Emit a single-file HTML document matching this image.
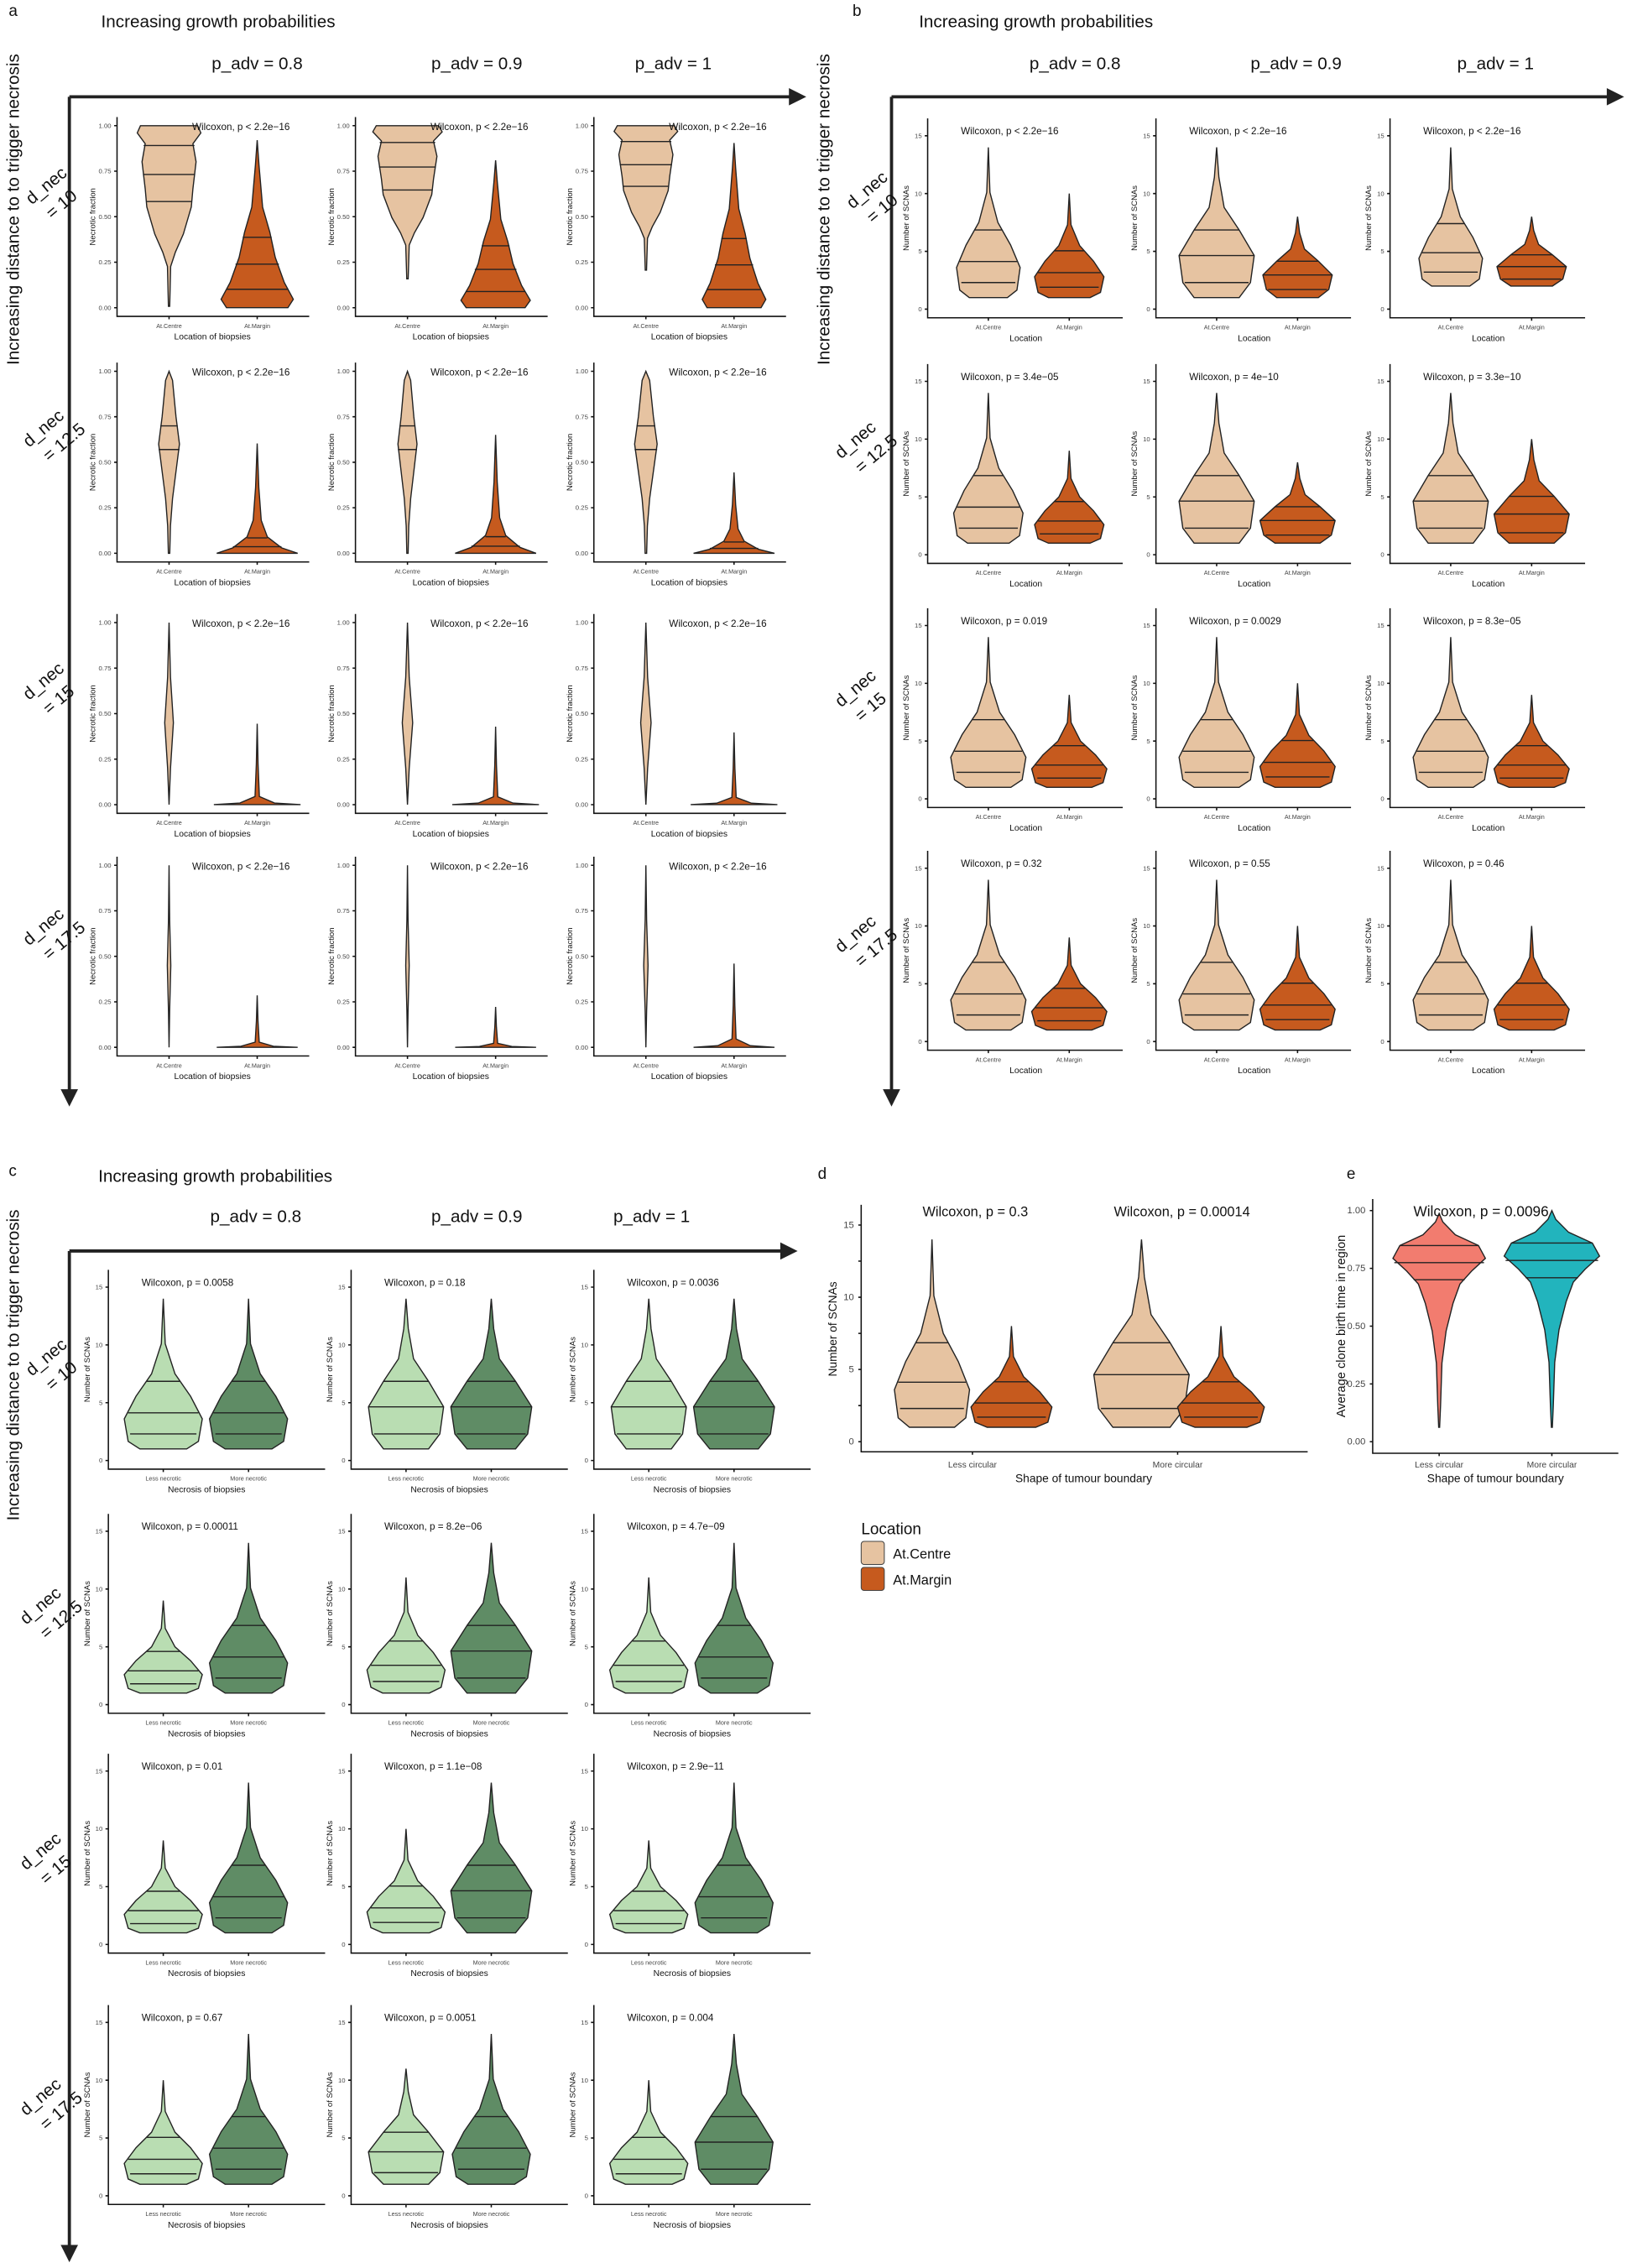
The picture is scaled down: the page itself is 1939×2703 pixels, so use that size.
<!DOCTYPE html>
<html><head><meta charset="utf-8"><style>
body{margin:0;background:#fff}
svg{display:block}
text{font-family:"Liberation Sans",sans-serif;fill:#111}
.t{font-size:4.5px;text-anchor:end;fill:#444}
.yl{font-size:5.5px;text-anchor:middle}
.xt{font-size:4.2px;text-anchor:middle;fill:#444}
.xl{font-size:6px;text-anchor:middle}
.w{font-size:6.8px}
.big{font-size:12px}
.pa{font-size:12px;text-anchor:middle}
.rl{font-size:12px}
.lab{font-size:11px}
</style></head><body>
<svg width="1939" height="2703" viewBox="0 0 1126 1570" preserveAspectRatio="none" xmlns="http://www.w3.org/2000/svg">
<defs>
<g id="axA" stroke="#111" stroke-width="0.9" fill="none"><path d="M0,0V138H133"/><path d="M-2,6H0M-2,37.5H0M-2,69H0M-2,100.5H0M-2,132H0M36,138v2M97,138v2"/></g>
<g id="axB" stroke="#111" stroke-width="0.9" fill="none"><path d="M0,0V138H135"/><path d="M-2,132H0M-2,92H0M-2,52H0M-2,12H0M42,138v2M98,138v2"/></g>
<g id="axC" stroke="#111" stroke-width="0.9" fill="none"><path d="M0,0V138H150"/><path d="M-2,132H0M-2,92H0M-2,52H0M-2,12H0M38,138v2M97,138v2"/></g>
<g id="vTop" stroke="#222" stroke-width="1.4"><polygon vector-effect="non-scaling-stroke" points="-0.9,0 0.9,0 1,0.04 0.75,0.1 0.85,0.2 0.75,0.35 0.7,0.45 0.45,0.6 0.2,0.7 0.05,0.78 0.02,1 -0.02,1 -0.05,0.78 -0.2,0.7 -0.45,0.6 -0.7,0.45 -0.75,0.35 -0.85,0.2 -0.75,0.1 -1,0.04"/><path vector-effect="non-scaling-stroke" fill="none" d="M-0.8,0.11H0.8M-0.82,0.27H0.82M-0.72,0.42H0.72"/></g>
<g id="vPyr" stroke="#222" stroke-width="1.4"><polygon vector-effect="non-scaling-stroke" points="0,0 0.05,0.15 0.15,0.4 0.35,0.55 0.5,0.7 0.75,0.85 1,0.95 0.85,1 -0.85,1 -1,0.95 -0.75,0.85 -0.5,0.7 -0.35,0.55 -0.15,0.4 -0.05,0.15"/><path vector-effect="non-scaling-stroke" fill="none" d="M-0.4,0.58H0.4M-0.6,0.74H0.6M-0.85,0.89H0.85"/></g>
<g id="vSpin" stroke="#222" stroke-width="1.4"><polygon vector-effect="non-scaling-stroke" points="0,0 0.1,0.05 0.15,0.15 0.2,0.25 0.3,0.4 0.2,0.55 0.1,0.7 0.04,0.85 0.02,1 -0.02,1 -0.04,0.85 -0.1,0.7 -0.2,0.55 -0.3,0.4 -0.2,0.25 -0.15,0.15 -0.1,0.05"/><path vector-effect="non-scaling-stroke" fill="none" d="M-0.25,0.3H0.25M-0.3,0.43H0.3"/></g>
<g id="vFlat" stroke="#222" stroke-width="1.4"><polygon vector-effect="non-scaling-stroke" points="0,0 0.04,0.4 0.1,0.7 0.25,0.85 0.6,0.95 1,1 -1,1 -0.6,0.95 -0.25,0.85 -0.1,0.7 -0.04,0.4"/><path vector-effect="non-scaling-stroke" fill="none" d="M-0.25,0.86H0.25M-0.6,0.94H0.6"/></g>
<g id="vFlat2" stroke="#222" stroke-width="1.4"><polygon vector-effect="non-scaling-stroke" points="0,0 0.02,0.5 0.05,0.9 0.4,0.98 1,1 -1,1 -0.4,0.98 -0.05,0.9 -0.02,0.5"/></g>
<g id="vNeed" stroke="#222" stroke-width="1.4"><polygon vector-effect="non-scaling-stroke" points="0,0 0.2,0.3 0.6,0.55 0.2,0.8 0,1 -0.2,0.8 -0.6,0.55 -0.2,0.3"/></g>
<g id="vS" stroke="#222" stroke-width="1.4"><polygon vector-effect="non-scaling-stroke" points="0,0 0.05,0.3 0.3,0.5 0.7,0.65 1,0.8 0.9,0.95 0.6,1 -0.6,1 -0.9,0.95 -1,0.8 -0.7,0.65 -0.3,0.5 -0.05,0.3"/><path vector-effect="non-scaling-stroke" fill="none" d="M-0.42,0.55H0.42M-0.9,0.76H0.9M-0.85,0.9H0.85"/></g>
<g id="vS2" stroke="#222" stroke-width="1.4"><polygon vector-effect="non-scaling-stroke" points="0,0 0.06,0.2 0.2,0.4 0.6,0.55 1,0.72 0.9,0.9 0.6,1 -0.6,1 -0.9,0.9 -1,0.72 -0.6,0.55 -0.2,0.4 -0.06,0.2"/><path vector-effect="non-scaling-stroke" fill="none" d="M-0.6,0.55H0.6M-1,0.72H1M-0.85,0.9H0.85"/></g>
<g id="vE" stroke="#222" stroke-width="1.4"><polygon vector-effect="non-scaling-stroke" points="0,0 0.08,0.04 0.35,0.1 0.85,0.15 1,0.21 0.7,0.27 0.45,0.33 0.3,0.42 0.15,0.55 0.06,0.7 0.03,0.9 0.01,1 -0.01,1 -0.03,0.9 -0.06,0.7 -0.15,0.55 -0.3,0.42 -0.45,0.33 -0.7,0.27 -1,0.21 -0.85,0.15 -0.35,0.1 -0.08,0.04"/><path vector-effect="non-scaling-stroke" fill="none" d="M-0.85,0.15H0.85M-0.97,0.23H0.97M-0.55,0.31H0.55"/></g>
</defs>

<!-- PANEL A -->
<text x="6" y="11" class="lab">a</text>
<text x="70" y="19" class="big">Increasing growth probabilities</text>
<text x="178" y="48" class="pa">p_adv = 0.8</text><text x="330" y="48" class="pa">p_adv = 0.9</text><text x="466" y="48" class="pa">p_adv = 1</text>
<path d="M48,67H552M48,67V758" stroke="#222" stroke-width="2.2" fill="none"/>
<polygon points="558,67 546,61 546,73" fill="#222"/><polygon points="48,766 42,754 54,754" fill="#222"/>
<text transform="translate(13,145) rotate(-90)" class="big" text-anchor="middle">Increasing distance to to trigger necrosis</text>
<g class="rl"><text transform="translate(22,142) rotate(-40)">d_nec</text><text transform="translate(36,152) rotate(-40)">= 10</text>
<text transform="translate(20,310) rotate(-40)">d_nec</text><text transform="translate(34,320) rotate(-40)">= 12.5</text>
<text transform="translate(20,485) rotate(-40)">d_nec</text><text transform="translate(34,495) rotate(-40)">= 15</text>
<text transform="translate(20,655) rotate(-40)">d_nec</text><text transform="translate(34,665) rotate(-40)">= 17.5</text></g>

<g transform="translate(81,81)"><use href="#axA"/><use href="#vTop" fill="#e6c3a1" transform="translate(36,6) scale(22,125)"/><use href="#vPyr" fill="#c65a1e" transform="translate(97,16) scale(25,116)"/>
<text x="-4" y="7.5" class="t">1.00</text><text x="-4" y="39" class="t">0.75</text><text x="-4" y="70.5" class="t">0.50</text><text x="-4" y="102" class="t">0.25</text><text x="-4" y="133.5" class="t">0.00</text><text transform="translate(-15,69) rotate(-90)" class="yl">Necrotic fraction</text><text x="36" y="146" class="xt">At.Centre</text><text x="97" y="146" class="xt">At.Margin</text><text x="66" y="154" class="xl">Location of biopsies</text><text x="52" y="9" class="w">Wilcoxon, p &lt; 2.2e−16</text></g>
<g transform="translate(246,81)"><use href="#axA"/><use href="#vTop" fill="#e6c3a1" transform="translate(36,6) scale(24,106)"/><use href="#vPyr" fill="#c65a1e" transform="translate(97,30) scale(24,102)"/>
<text x="-4" y="7.5" class="t">1.00</text><text x="-4" y="39" class="t">0.75</text><text x="-4" y="70.5" class="t">0.50</text><text x="-4" y="102" class="t">0.25</text><text x="-4" y="133.5" class="t">0.00</text><text transform="translate(-15,69) rotate(-90)" class="yl">Necrotic fraction</text><text x="36" y="146" class="xt">At.Centre</text><text x="97" y="146" class="xt">At.Margin</text><text x="66" y="154" class="xl">Location of biopsies</text><text x="52" y="9" class="w">Wilcoxon, p &lt; 2.2e−16</text></g>
<g transform="translate(411,81)"><use href="#axA"/><use href="#vTop" fill="#e6c3a1" transform="translate(36,6) scale(22,100)"/><use href="#vPyr" fill="#c65a1e" transform="translate(97,18) scale(22,114)"/>
<text x="-4" y="7.5" class="t">1.00</text><text x="-4" y="39" class="t">0.75</text><text x="-4" y="70.5" class="t">0.50</text><text x="-4" y="102" class="t">0.25</text><text x="-4" y="133.5" class="t">0.00</text><text transform="translate(-15,69) rotate(-90)" class="yl">Necrotic fraction</text><text x="36" y="146" class="xt">At.Centre</text><text x="97" y="146" class="xt">At.Margin</text><text x="66" y="154" class="xl">Location of biopsies</text><text x="52" y="9" class="w">Wilcoxon, p &lt; 2.2e−16</text></g>

<g transform="translate(81,251)"><use href="#axA"/><use href="#vSpin" fill="#e6c3a1" transform="translate(36,6) scale(24,126)"/><use href="#vFlat" fill="#c65a1e" transform="translate(97,56) scale(28,76)"/>
<text x="-4" y="7.5" class="t">1.00</text><text x="-4" y="39" class="t">0.75</text><text x="-4" y="70.5" class="t">0.50</text><text x="-4" y="102" class="t">0.25</text><text x="-4" y="133.5" class="t">0.00</text><text transform="translate(-15,69) rotate(-90)" class="yl">Necrotic fraction</text><text x="36" y="146" class="xt">At.Centre</text><text x="97" y="146" class="xt">At.Margin</text><text x="66" y="154" class="xl">Location of biopsies</text><text x="52" y="9" class="w">Wilcoxon, p &lt; 2.2e−16</text></g>
<g transform="translate(246,251)"><use href="#axA"/><use href="#vSpin" fill="#e6c3a1" transform="translate(36,6) scale(22,126)"/><use href="#vFlat" fill="#c65a1e" transform="translate(97,50) scale(28,82)"/>
<text x="-4" y="7.5" class="t">1.00</text><text x="-4" y="39" class="t">0.75</text><text x="-4" y="70.5" class="t">0.50</text><text x="-4" y="102" class="t">0.25</text><text x="-4" y="133.5" class="t">0.00</text><text transform="translate(-15,69) rotate(-90)" class="yl">Necrotic fraction</text><text x="36" y="146" class="xt">At.Centre</text><text x="97" y="146" class="xt">At.Margin</text><text x="66" y="154" class="xl">Location of biopsies</text><text x="52" y="9" class="w">Wilcoxon, p &lt; 2.2e−16</text></g>
<g transform="translate(411,251)"><use href="#axA"/><use href="#vSpin" fill="#e6c3a1" transform="translate(36,6) scale(26,126)"/><use href="#vFlat" fill="#c65a1e" transform="translate(97,76) scale(28,56)"/>
<text x="-4" y="7.5" class="t">1.00</text><text x="-4" y="39" class="t">0.75</text><text x="-4" y="70.5" class="t">0.50</text><text x="-4" y="102" class="t">0.25</text><text x="-4" y="133.5" class="t">0.00</text><text transform="translate(-15,69) rotate(-90)" class="yl">Necrotic fraction</text><text x="36" y="146" class="xt">At.Centre</text><text x="97" y="146" class="xt">At.Margin</text><text x="66" y="154" class="xl">Location of biopsies</text><text x="52" y="9" class="w">Wilcoxon, p &lt; 2.2e−16</text></g>

<g transform="translate(81,425)"><use href="#axA"/><use href="#vNeed" fill="#e6c3a1" transform="translate(36,6) scale(5,126)"/><use href="#vFlat2" fill="#c65a1e" transform="translate(97,76) scale(30,56)"/>
<text x="-4" y="7.5" class="t">1.00</text><text x="-4" y="39" class="t">0.75</text><text x="-4" y="70.5" class="t">0.50</text><text x="-4" y="102" class="t">0.25</text><text x="-4" y="133.5" class="t">0.00</text><text transform="translate(-15,69) rotate(-90)" class="yl">Necrotic fraction</text><text x="36" y="146" class="xt">At.Centre</text><text x="97" y="146" class="xt">At.Margin</text><text x="66" y="154" class="xl">Location of biopsies</text><text x="52" y="9" class="w">Wilcoxon, p &lt; 2.2e−16</text></g>
<g transform="translate(246,425)"><use href="#axA"/><use href="#vNeed" fill="#e6c3a1" transform="translate(36,6) scale(6,126)"/><use href="#vFlat2" fill="#c65a1e" transform="translate(97,78) scale(30,54)"/>
<text x="-4" y="7.5" class="t">1.00</text><text x="-4" y="39" class="t">0.75</text><text x="-4" y="70.5" class="t">0.50</text><text x="-4" y="102" class="t">0.25</text><text x="-4" y="133.5" class="t">0.00</text><text transform="translate(-15,69) rotate(-90)" class="yl">Necrotic fraction</text><text x="36" y="146" class="xt">At.Centre</text><text x="97" y="146" class="xt">At.Margin</text><text x="66" y="154" class="xl">Location of biopsies</text><text x="52" y="9" class="w">Wilcoxon, p &lt; 2.2e−16</text></g>
<g transform="translate(411,425)"><use href="#axA"/><use href="#vNeed" fill="#e6c3a1" transform="translate(36,6) scale(6,126)"/><use href="#vFlat2" fill="#c65a1e" transform="translate(97,82) scale(30,50)"/>
<text x="-4" y="7.5" class="t">1.00</text><text x="-4" y="39" class="t">0.75</text><text x="-4" y="70.5" class="t">0.50</text><text x="-4" y="102" class="t">0.25</text><text x="-4" y="133.5" class="t">0.00</text><text transform="translate(-15,69) rotate(-90)" class="yl">Necrotic fraction</text><text x="36" y="146" class="xt">At.Centre</text><text x="97" y="146" class="xt">At.Margin</text><text x="66" y="154" class="xl">Location of biopsies</text><text x="52" y="9" class="w">Wilcoxon, p &lt; 2.2e−16</text></g>

<g transform="translate(81,593)"><use href="#axA"/><use href="#vNeed" fill="#e6c3a1" transform="translate(36,6) scale(2,126)"/><use href="#vFlat2" fill="#c65a1e" transform="translate(97,96) scale(28,36)"/>
<text x="-4" y="7.5" class="t">1.00</text><text x="-4" y="39" class="t">0.75</text><text x="-4" y="70.5" class="t">0.50</text><text x="-4" y="102" class="t">0.25</text><text x="-4" y="133.5" class="t">0.00</text><text transform="translate(-15,69) rotate(-90)" class="yl">Necrotic fraction</text><text x="36" y="146" class="xt">At.Centre</text><text x="97" y="146" class="xt">At.Margin</text><text x="66" y="154" class="xl">Location of biopsies</text><text x="52" y="9" class="w">Wilcoxon, p &lt; 2.2e−16</text></g>
<g transform="translate(246,593)"><use href="#axA"/><use href="#vNeed" fill="#e6c3a1" transform="translate(36,6) scale(2,126)"/><use href="#vFlat2" fill="#c65a1e" transform="translate(97,104) scale(28,28)"/>
<text x="-4" y="7.5" class="t">1.00</text><text x="-4" y="39" class="t">0.75</text><text x="-4" y="70.5" class="t">0.50</text><text x="-4" y="102" class="t">0.25</text><text x="-4" y="133.5" class="t">0.00</text><text transform="translate(-15,69) rotate(-90)" class="yl">Necrotic fraction</text><text x="36" y="146" class="xt">At.Centre</text><text x="97" y="146" class="xt">At.Margin</text><text x="66" y="154" class="xl">Location of biopsies</text><text x="52" y="9" class="w">Wilcoxon, p &lt; 2.2e−16</text></g>
<g transform="translate(411,593)"><use href="#axA"/><use href="#vNeed" fill="#e6c3a1" transform="translate(36,6) scale(2.5,126)"/><use href="#vFlat2" fill="#c65a1e" transform="translate(97,74) scale(28,58)"/>
<text x="-4" y="7.5" class="t">1.00</text><text x="-4" y="39" class="t">0.75</text><text x="-4" y="70.5" class="t">0.50</text><text x="-4" y="102" class="t">0.25</text><text x="-4" y="133.5" class="t">0.00</text><text transform="translate(-15,69) rotate(-90)" class="yl">Necrotic fraction</text><text x="36" y="146" class="xt">At.Centre</text><text x="97" y="146" class="xt">At.Margin</text><text x="66" y="154" class="xl">Location of biopsies</text><text x="52" y="9" class="w">Wilcoxon, p &lt; 2.2e−16</text></g>

<!-- PANEL B -->
<text x="590" y="11" class="lab">b</text>
<text x="636" y="19" class="big">Increasing growth probabilities</text>
<text x="744" y="48" class="pa">p_adv = 0.8</text><text x="897" y="48" class="pa">p_adv = 0.9</text><text x="1035" y="48" class="pa">p_adv = 1</text>
<path d="M617,67H1117M617,67V758" stroke="#222" stroke-width="2.2" fill="none"/>
<polygon points="1124,67 1112,61 1112,73" fill="#222"/><polygon points="617,766 611,754 623,754" fill="#222"/>
<text transform="translate(574,145) rotate(-90)" class="big" text-anchor="middle">Increasing distance to to trigger necrosis</text>
<g class="rl"><text transform="translate(590,145) rotate(-40)">d_nec</text><text transform="translate(604,155) rotate(-40)">= 10</text>
<text transform="translate(582,318) rotate(-40)">d_nec</text><text transform="translate(596,328) rotate(-40)">= 12.5</text>
<text transform="translate(582,490) rotate(-40)">d_nec</text><text transform="translate(596,500) rotate(-40)">= 15</text>
<text transform="translate(582,660) rotate(-40)">d_nec</text><text transform="translate(596,670) rotate(-40)">= 17.5</text></g>

<g transform="translate(642,82)"><use href="#axB"/><use href="#vS" fill="#e6c3a1" transform="translate(42,20) scale(22,104)"/><use href="#vS" fill="#c65a1e" transform="translate(98,52) scale(24,72)"/>
<text x="-4" y="133.5" class="t">0</text><text x="-4" y="93.5" class="t">5</text><text x="-4" y="53.5" class="t">10</text><text x="-4" y="13.5" class="t">15</text><text transform="translate(-13,69) rotate(-90)" class="yl">Number of SCNAs</text><text x="42" y="146" class="xt">At.Centre</text><text x="98" y="146" class="xt">At.Margin</text><text x="68" y="154" class="xl">Location</text><text x="23" y="11" class="w">Wilcoxon, p &lt; 2.2e−16</text></g>
<g transform="translate(800,82)"><use href="#axB"/><use href="#vS2" fill="#e6c3a1" transform="translate(42,20) scale(26,104)"/><use href="#vS2" fill="#c65a1e" transform="translate(98,68) scale(24,56)"/>
<text x="-4" y="133.5" class="t">0</text><text x="-4" y="93.5" class="t">5</text><text x="-4" y="53.5" class="t">10</text><text x="-4" y="13.5" class="t">15</text><text transform="translate(-13,69) rotate(-90)" class="yl">Number of SCNAs</text><text x="42" y="146" class="xt">At.Centre</text><text x="98" y="146" class="xt">At.Margin</text><text x="68" y="154" class="xl">Location</text><text x="23" y="11" class="w">Wilcoxon, p &lt; 2.2e−16</text></g>
<g transform="translate(962,82)"><use href="#axB"/><use href="#vS" fill="#e6c3a1" transform="translate(42,20) scale(22,96)"/><use href="#vS2" fill="#c65a1e" transform="translate(98,68) scale(24,48)"/>
<text x="-4" y="133.5" class="t">0</text><text x="-4" y="93.5" class="t">5</text><text x="-4" y="53.5" class="t">10</text><text x="-4" y="13.5" class="t">15</text><text transform="translate(-13,69) rotate(-90)" class="yl">Number of SCNAs</text><text x="42" y="146" class="xt">At.Centre</text><text x="98" y="146" class="xt">At.Margin</text><text x="68" y="154" class="xl">Location</text><text x="23" y="11" class="w">Wilcoxon, p &lt; 2.2e−16</text></g>

<g transform="translate(642,252)"><use href="#axB"/><use href="#vS" fill="#e6c3a1" transform="translate(42,20) scale(24,104)"/><use href="#vS" fill="#c65a1e" transform="translate(98,60) scale(24,64)"/>
<text x="-4" y="133.5" class="t">0</text><text x="-4" y="93.5" class="t">5</text><text x="-4" y="53.5" class="t">10</text><text x="-4" y="13.5" class="t">15</text><text transform="translate(-13,69) rotate(-90)" class="yl">Number of SCNAs</text><text x="42" y="146" class="xt">At.Centre</text><text x="98" y="146" class="xt">At.Margin</text><text x="68" y="154" class="xl">Location</text><text x="23" y="11" class="w">Wilcoxon, p = 3.4e−05</text></g>
<g transform="translate(800,252)"><use href="#axB"/><use href="#vS2" fill="#e6c3a1" transform="translate(42,20) scale(26,104)"/><use href="#vS2" fill="#c65a1e" transform="translate(98,68) scale(26,56)"/>
<text x="-4" y="133.5" class="t">0</text><text x="-4" y="93.5" class="t">5</text><text x="-4" y="53.5" class="t">10</text><text x="-4" y="13.5" class="t">15</text><text transform="translate(-13,69) rotate(-90)" class="yl">Number of SCNAs</text><text x="42" y="146" class="xt">At.Centre</text><text x="98" y="146" class="xt">At.Margin</text><text x="68" y="154" class="xl">Location</text><text x="23" y="11" class="w">Wilcoxon, p = 4e−10</text></g>
<g transform="translate(962,252)"><use href="#axB"/><use href="#vS2" fill="#e6c3a1" transform="translate(42,20) scale(26,104)"/><use href="#vS2" fill="#c65a1e" transform="translate(98,52) scale(26,72)"/>
<text x="-4" y="133.5" class="t">0</text><text x="-4" y="93.5" class="t">5</text><text x="-4" y="53.5" class="t">10</text><text x="-4" y="13.5" class="t">15</text><text transform="translate(-13,69) rotate(-90)" class="yl">Number of SCNAs</text><text x="42" y="146" class="xt">At.Centre</text><text x="98" y="146" class="xt">At.Margin</text><text x="68" y="154" class="xl">Location</text><text x="23" y="11" class="w">Wilcoxon, p = 3.3e−10</text></g>

<g transform="translate(642,421)"><use href="#axB"/><use href="#vS" fill="#e6c3a1" transform="translate(42,20) scale(26,104)"/><use href="#vS" fill="#c65a1e" transform="translate(98,60) scale(26,64)"/>
<text x="-4" y="133.5" class="t">0</text><text x="-4" y="93.5" class="t">5</text><text x="-4" y="53.5" class="t">10</text><text x="-4" y="13.5" class="t">15</text><text transform="translate(-13,69) rotate(-90)" class="yl">Number of SCNAs</text><text x="42" y="146" class="xt">At.Centre</text><text x="98" y="146" class="xt">At.Margin</text><text x="68" y="154" class="xl">Location</text><text x="23" y="11" class="w">Wilcoxon, p = 0.019</text></g>
<g transform="translate(800,421)"><use href="#axB"/><use href="#vS" fill="#e6c3a1" transform="translate(42,20) scale(26,104)"/><use href="#vS" fill="#c65a1e" transform="translate(98,52) scale(26,72)"/>
<text x="-4" y="133.5" class="t">0</text><text x="-4" y="93.5" class="t">5</text><text x="-4" y="53.5" class="t">10</text><text x="-4" y="13.5" class="t">15</text><text transform="translate(-13,69) rotate(-90)" class="yl">Number of SCNAs</text><text x="42" y="146" class="xt">At.Centre</text><text x="98" y="146" class="xt">At.Margin</text><text x="68" y="154" class="xl">Location</text><text x="23" y="11" class="w">Wilcoxon, p = 0.0029</text></g>
<g transform="translate(962,421)"><use href="#axB"/><use href="#vS" fill="#e6c3a1" transform="translate(42,20) scale(26,104)"/><use href="#vS" fill="#c65a1e" transform="translate(98,60) scale(26,64)"/>
<text x="-4" y="133.5" class="t">0</text><text x="-4" y="93.5" class="t">5</text><text x="-4" y="53.5" class="t">10</text><text x="-4" y="13.5" class="t">15</text><text transform="translate(-13,69) rotate(-90)" class="yl">Number of SCNAs</text><text x="42" y="146" class="xt">At.Centre</text><text x="98" y="146" class="xt">At.Margin</text><text x="68" y="154" class="xl">Location</text><text x="23" y="11" class="w">Wilcoxon, p = 8.3e−05</text></g>

<g transform="translate(642,589)"><use href="#axB"/><use href="#vS" fill="#e6c3a1" transform="translate(42,20) scale(26,104)"/><use href="#vS" fill="#c65a1e" transform="translate(98,60) scale(26,64)"/>
<text x="-4" y="133.5" class="t">0</text><text x="-4" y="93.5" class="t">5</text><text x="-4" y="53.5" class="t">10</text><text x="-4" y="13.5" class="t">15</text><text transform="translate(-13,69) rotate(-90)" class="yl">Number of SCNAs</text><text x="42" y="146" class="xt">At.Centre</text><text x="98" y="146" class="xt">At.Margin</text><text x="68" y="154" class="xl">Location</text><text x="23" y="11" class="w">Wilcoxon, p = 0.32</text></g>
<g transform="translate(800,589)"><use href="#axB"/><use href="#vS" fill="#e6c3a1" transform="translate(42,20) scale(26,104)"/><use href="#vS" fill="#c65a1e" transform="translate(98,52) scale(26,72)"/>
<text x="-4" y="133.5" class="t">0</text><text x="-4" y="93.5" class="t">5</text><text x="-4" y="53.5" class="t">10</text><text x="-4" y="13.5" class="t">15</text><text transform="translate(-13,69) rotate(-90)" class="yl">Number of SCNAs</text><text x="42" y="146" class="xt">At.Centre</text><text x="98" y="146" class="xt">At.Margin</text><text x="68" y="154" class="xl">Location</text><text x="23" y="11" class="w">Wilcoxon, p = 0.55</text></g>
<g transform="translate(962,589)"><use href="#axB"/><use href="#vS" fill="#e6c3a1" transform="translate(42,20) scale(26,104)"/><use href="#vS" fill="#c65a1e" transform="translate(98,52) scale(26,72)"/>
<text x="-4" y="133.5" class="t">0</text><text x="-4" y="93.5" class="t">5</text><text x="-4" y="53.5" class="t">10</text><text x="-4" y="13.5" class="t">15</text><text transform="translate(-13,69) rotate(-90)" class="yl">Number of SCNAs</text><text x="42" y="146" class="xt">At.Centre</text><text x="98" y="146" class="xt">At.Margin</text><text x="68" y="154" class="xl">Location</text><text x="23" y="11" class="w">Wilcoxon, p = 0.46</text></g>

<!-- PANEL C -->
<text x="6" y="814" class="lab">c</text>
<text x="68" y="818" class="big">Increasing growth probabilities</text>
<text x="177" y="846" class="pa">p_adv = 0.8</text><text x="330" y="846" class="pa">p_adv = 0.9</text><text x="451" y="846" class="pa">p_adv = 1</text>
<path d="M48,866H545M48,866V1558" stroke="#222" stroke-width="2.2" fill="none"/>
<polygon points="552,866 540,860 540,872" fill="#222"/><polygon points="48,1566 42,1554 54,1554" fill="#222"/>
<text transform="translate(13,945) rotate(-90)" class="big" text-anchor="middle">Increasing distance to to trigger necrosis</text>
<g class="rl"><text transform="translate(22,953) rotate(-40)">d_nec</text><text transform="translate(36,963) rotate(-40)">= 10</text>
<text transform="translate(18,1125) rotate(-40)">d_nec</text><text transform="translate(32,1135) rotate(-40)">= 12.5</text>
<text transform="translate(18,1295) rotate(-40)">d_nec</text><text transform="translate(32,1305) rotate(-40)">= 15</text>
<text transform="translate(18,1465) rotate(-40)">d_nec</text><text transform="translate(32,1475) rotate(-40)">= 17.5</text></g>

<g transform="translate(75,879)"><use href="#axC"/><use href="#vS" fill="#b9ddb2" transform="translate(38,20) scale(27,104)"/><use href="#vS" fill="#5f8c65" transform="translate(97,20) scale(27,104)"/>
<text x="-4" y="133.5" class="t">0</text><text x="-4" y="93.5" class="t">5</text><text x="-4" y="53.5" class="t">10</text><text x="-4" y="13.5" class="t">15</text><text transform="translate(-13,69) rotate(-90)" class="yl">Number of SCNAs</text><text x="38" y="146" class="xt">Less necrotic</text><text x="97" y="146" class="xt">More necrotic</text><text x="68" y="154" class="xl">Necrosis of biopsies</text><text x="23" y="11" class="w">Wilcoxon, p = 0.0058</text></g>
<g transform="translate(243,879)"><use href="#axC"/><use href="#vS2" fill="#b9ddb2" transform="translate(38,20) scale(26,104)"/><use href="#vS2" fill="#5f8c65" transform="translate(97,20) scale(28,104)"/>
<text x="-4" y="133.5" class="t">0</text><text x="-4" y="93.5" class="t">5</text><text x="-4" y="53.5" class="t">10</text><text x="-4" y="13.5" class="t">15</text><text transform="translate(-13,69) rotate(-90)" class="yl">Number of SCNAs</text><text x="38" y="146" class="xt">Less necrotic</text><text x="97" y="146" class="xt">More necrotic</text><text x="68" y="154" class="xl">Necrosis of biopsies</text><text x="23" y="11" class="w">Wilcoxon, p = 0.18</text></g>
<g transform="translate(411,879)"><use href="#axC"/><use href="#vS2" fill="#b9ddb2" transform="translate(38,20) scale(26,104)"/><use href="#vS2" fill="#5f8c65" transform="translate(97,20) scale(28,104)"/>
<text x="-4" y="133.5" class="t">0</text><text x="-4" y="93.5" class="t">5</text><text x="-4" y="53.5" class="t">10</text><text x="-4" y="13.5" class="t">15</text><text transform="translate(-13,69) rotate(-90)" class="yl">Number of SCNAs</text><text x="38" y="146" class="xt">Less necrotic</text><text x="97" y="146" class="xt">More necrotic</text><text x="68" y="154" class="xl">Necrosis of biopsies</text><text x="23" y="11" class="w">Wilcoxon, p = 0.0036</text></g>

<g transform="translate(75,1048)"><use href="#axC"/><use href="#vS" fill="#b9ddb2" transform="translate(38,60) scale(27,64)"/><use href="#vS" fill="#5f8c65" transform="translate(97,20) scale(27,104)"/>
<text x="-4" y="133.5" class="t">0</text><text x="-4" y="93.5" class="t">5</text><text x="-4" y="53.5" class="t">10</text><text x="-4" y="13.5" class="t">15</text><text transform="translate(-13,69) rotate(-90)" class="yl">Number of SCNAs</text><text x="38" y="146" class="xt">Less necrotic</text><text x="97" y="146" class="xt">More necrotic</text><text x="68" y="154" class="xl">Necrosis of biopsies</text><text x="23" y="11" class="w">Wilcoxon, p = 0.00011</text></g>
<g transform="translate(243,1048)"><use href="#axC"/><use href="#vS" fill="#b9ddb2" transform="translate(38,44) scale(27,80)"/><use href="#vS2" fill="#5f8c65" transform="translate(97,20) scale(28,104)"/>
<text x="-4" y="133.5" class="t">0</text><text x="-4" y="93.5" class="t">5</text><text x="-4" y="53.5" class="t">10</text><text x="-4" y="13.5" class="t">15</text><text transform="translate(-13,69) rotate(-90)" class="yl">Number of SCNAs</text><text x="38" y="146" class="xt">Less necrotic</text><text x="97" y="146" class="xt">More necrotic</text><text x="68" y="154" class="xl">Necrosis of biopsies</text><text x="23" y="11" class="w">Wilcoxon, p = 8.2e−06</text></g>
<g transform="translate(411,1048)"><use href="#axC"/><use href="#vS" fill="#b9ddb2" transform="translate(38,44) scale(27,80)"/><use href="#vS" fill="#5f8c65" transform="translate(97,20) scale(27,104)"/>
<text x="-4" y="133.5" class="t">0</text><text x="-4" y="93.5" class="t">5</text><text x="-4" y="53.5" class="t">10</text><text x="-4" y="13.5" class="t">15</text><text transform="translate(-13,69) rotate(-90)" class="yl">Number of SCNAs</text><text x="38" y="146" class="xt">Less necrotic</text><text x="97" y="146" class="xt">More necrotic</text><text x="68" y="154" class="xl">Necrosis of biopsies</text><text x="23" y="11" class="w">Wilcoxon, p = 4.7e−09</text></g>

<g transform="translate(75,1214)"><use href="#axC"/><use href="#vS" fill="#b9ddb2" transform="translate(38,60) scale(27,64)"/><use href="#vS" fill="#5f8c65" transform="translate(97,20) scale(27,104)"/>
<text x="-4" y="133.5" class="t">0</text><text x="-4" y="93.5" class="t">5</text><text x="-4" y="53.5" class="t">10</text><text x="-4" y="13.5" class="t">15</text><text transform="translate(-13,69) rotate(-90)" class="yl">Number of SCNAs</text><text x="38" y="146" class="xt">Less necrotic</text><text x="97" y="146" class="xt">More necrotic</text><text x="68" y="154" class="xl">Necrosis of biopsies</text><text x="23" y="11" class="w">Wilcoxon, p = 0.01</text></g>
<g transform="translate(243,1214)"><use href="#axC"/><use href="#vS" fill="#b9ddb2" transform="translate(38,52) scale(27,72)"/><use href="#vS2" fill="#5f8c65" transform="translate(97,20) scale(28,104)"/>
<text x="-4" y="133.5" class="t">0</text><text x="-4" y="93.5" class="t">5</text><text x="-4" y="53.5" class="t">10</text><text x="-4" y="13.5" class="t">15</text><text transform="translate(-13,69) rotate(-90)" class="yl">Number of SCNAs</text><text x="38" y="146" class="xt">Less necrotic</text><text x="97" y="146" class="xt">More necrotic</text><text x="68" y="154" class="xl">Necrosis of biopsies</text><text x="23" y="11" class="w">Wilcoxon, p = 1.1e−08</text></g>
<g transform="translate(411,1214)"><use href="#axC"/><use href="#vS" fill="#b9ddb2" transform="translate(38,60) scale(27,64)"/><use href="#vS" fill="#5f8c65" transform="translate(97,20) scale(27,104)"/>
<text x="-4" y="133.5" class="t">0</text><text x="-4" y="93.5" class="t">5</text><text x="-4" y="53.5" class="t">10</text><text x="-4" y="13.5" class="t">15</text><text transform="translate(-13,69) rotate(-90)" class="yl">Number of SCNAs</text><text x="38" y="146" class="xt">Less necrotic</text><text x="97" y="146" class="xt">More necrotic</text><text x="68" y="154" class="xl">Necrosis of biopsies</text><text x="23" y="11" class="w">Wilcoxon, p = 2.9e−11</text></g>

<g transform="translate(75,1388)"><use href="#axC"/><use href="#vS" fill="#b9ddb2" transform="translate(38,52) scale(27,72)"/><use href="#vS" fill="#5f8c65" transform="translate(97,20) scale(27,104)"/>
<text x="-4" y="133.5" class="t">0</text><text x="-4" y="93.5" class="t">5</text><text x="-4" y="53.5" class="t">10</text><text x="-4" y="13.5" class="t">15</text><text transform="translate(-13,69) rotate(-90)" class="yl">Number of SCNAs</text><text x="38" y="146" class="xt">Less necrotic</text><text x="97" y="146" class="xt">More necrotic</text><text x="68" y="154" class="xl">Necrosis of biopsies</text><text x="23" y="11" class="w">Wilcoxon, p = 0.67</text></g>
<g transform="translate(243,1388)"><use href="#axC"/><use href="#vS2" fill="#b9ddb2" transform="translate(38,44) scale(26,80)"/><use href="#vS" fill="#5f8c65" transform="translate(97,20) scale(27,104)"/>
<text x="-4" y="133.5" class="t">0</text><text x="-4" y="93.5" class="t">5</text><text x="-4" y="53.5" class="t">10</text><text x="-4" y="13.5" class="t">15</text><text transform="translate(-13,69) rotate(-90)" class="yl">Number of SCNAs</text><text x="38" y="146" class="xt">Less necrotic</text><text x="97" y="146" class="xt">More necrotic</text><text x="68" y="154" class="xl">Necrosis of biopsies</text><text x="23" y="11" class="w">Wilcoxon, p = 0.0051</text></g>
<g transform="translate(411,1388)"><use href="#axC"/><use href="#vS" fill="#b9ddb2" transform="translate(38,52) scale(27,72)"/><use href="#vS2" fill="#5f8c65" transform="translate(97,20) scale(27,104)"/>
<text x="-4" y="133.5" class="t">0</text><text x="-4" y="93.5" class="t">5</text><text x="-4" y="53.5" class="t">10</text><text x="-4" y="13.5" class="t">15</text><text transform="translate(-13,69) rotate(-90)" class="yl">Number of SCNAs</text><text x="38" y="146" class="xt">Less necrotic</text><text x="97" y="146" class="xt">More necrotic</text><text x="68" y="154" class="xl">Necrosis of biopsies</text><text x="23" y="11" class="w">Wilcoxon, p = 0.004</text></g>

<!-- PANEL D -->
<text x="566" y="816" class="lab">d</text>
<path d="M596,834V1005H905M594,998H596M594,973H596M594,948H596M594,923H596M594,898H596M594,873H596M594,848H596M673,1005v2M815,1005v2" stroke="#111" stroke-width="0.9" fill="none"/>
<use href="#vS" fill="#e6c3a1" transform="translate(645,858) scale(26,130)"/>
<use href="#vS" fill="#c65a1e" transform="translate(700,918) scale(28,70)"/>
<use href="#vS2" fill="#e6c3a1" transform="translate(790,858) scale(33,130)"/>
<use href="#vS" fill="#c65a1e" transform="translate(845,918) scale(30,70)"/>
<g style="font-size:6.5px;text-anchor:end;fill:#444"><text x="591" y="1000" style="fill:#444">0</text><text x="591" y="950" style="fill:#444">5</text><text x="591" y="900" style="fill:#444">10</text><text x="591" y="850" style="fill:#444">15</text></g>
<text transform="translate(579,920) rotate(-90)" style="font-size:8px;text-anchor:middle">Number of SCNAs</text>
<text x="673" y="1016" class="xt" style="font-size:6px">Less circular</text><text x="815" y="1016" class="xt" style="font-size:6px">More circular</text>
<text x="750" y="1026" class="xl" style="font-size:8px">Shape of tumour boundary</text>
<text x="675" y="842" style="font-size:9.5px;text-anchor:middle">Wilcoxon, p = 0.3</text>
<text x="818" y="842" style="font-size:9.5px;text-anchor:middle">Wilcoxon, p = 0.00014</text>
<text x="596" y="1062" style="font-size:11px">Location</text>
<rect x="596" y="1067" width="16" height="16" rx="2" fill="#e6c3a1" stroke="#444" stroke-width="0.6"/>
<rect x="596" y="1085" width="16" height="16" rx="2" fill="#c65a1e" stroke="#444" stroke-width="0.6"/>
<text x="618" y="1079" style="font-size:9.5px">At.Centre</text><text x="618" y="1097" style="font-size:9.5px">At.Margin</text>

<!-- PANEL E -->
<text x="932" y="816" class="lab">e</text>
<path d="M950,830V1006H1120M948,838H950M948,878H950M948,918H950M948,958H950M948,998H950M996,1006v2M1074,1006v2" stroke="#111" stroke-width="0.9" fill="none"/>
<use href="#vE" fill="#f27c6f" transform="translate(996,840) scale(32,148)"/>
<use href="#vE" fill="#22b4bd" transform="translate(1074,838) scale(33,150)"/>
<g style="font-size:6.5px;text-anchor:end"><text x="945" y="840" style="fill:#444">1.00</text><text x="945" y="880" style="fill:#444">0.75</text><text x="945" y="920" style="fill:#444">0.50</text><text x="945" y="960" style="fill:#444">0.25</text><text x="945" y="1000" style="fill:#444">0.00</text></g>
<text transform="translate(931,918) rotate(-90)" style="font-size:8.5px;text-anchor:middle">Average clone birth time in region</text>
<text x="996" y="1016" class="xt" style="font-size:6px">Less circular</text><text x="1074" y="1016" class="xt" style="font-size:6px">More circular</text>
<text x="1035" y="1026" class="xl" style="font-size:8px">Shape of tumour boundary</text>
<text x="1025" y="842" style="font-size:10px;text-anchor:middle">Wilcoxon, p = 0.0096</text>
</svg>
</body></html>
